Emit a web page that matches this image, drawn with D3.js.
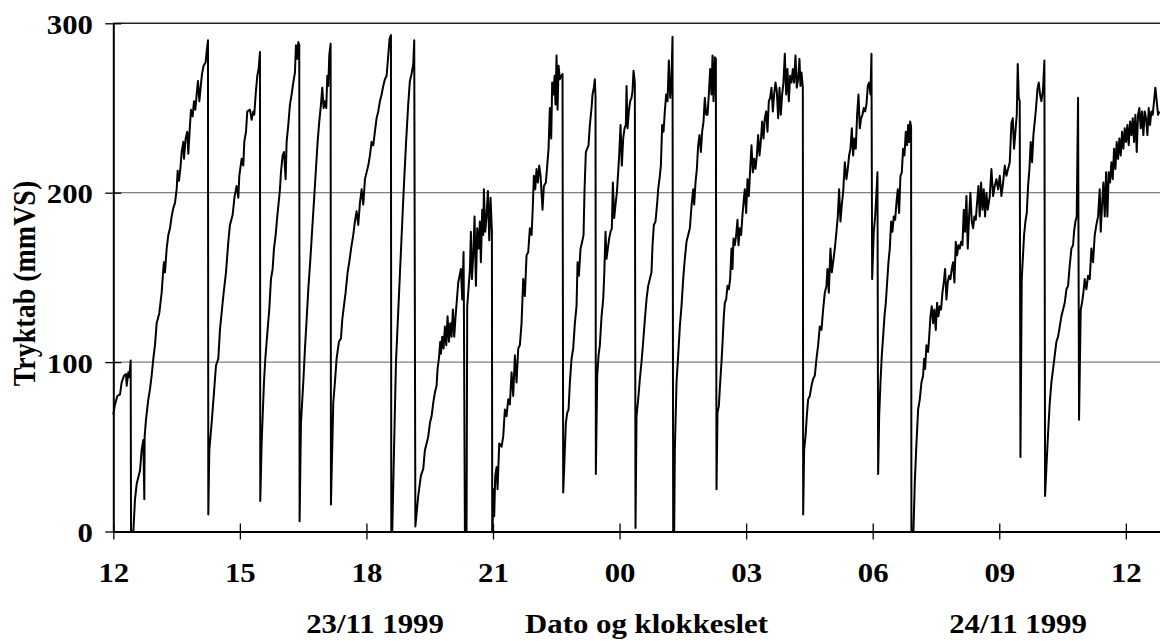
<!DOCTYPE html>
<html><head><meta charset="utf-8">
<script src="https://cdn.jsdelivr.net/npm/d3@7"></script>
<style>body{margin:0;background:#fff}svg{display:block}</style>
</head><body>
<svg id="chart" width="1160" height="641"></svg>
<script>
// [hours since 23/11 1999 12:00, Tryktab (mmVS)]
const readings = [
[0.000,69],[0.040,75],[0.096,80],[0.159,81],[0.198,88],[0.254,92],[0.301,93],[0.317,86],[0.356,94],[0.380,91],[0.412,101],[0.420,0],[0.475,0],[0.514,19],[0.554,28],[0.633,36],[0.672,48],[0.712,54],[0.735,19],[0.743,56],[0.775,66],[0.830,78],[0.870,84],[0.909,92],[0.949,102],[0.988,110],[1.028,123],[1.091,129],[1.146,141],[1.186,155],[1.201,159],[1.225,153],[1.265,167],[1.304,175],[1.344,179],[1.383,186],[1.423,191],[1.462,194],[1.502,202],[1.525,213],[1.557,207],[1.596,216],[1.620,224],[1.660,230],[1.675,220],[1.715,232],[1.754,236],[1.778,223],[1.818,240],[1.841,249],[1.881,245],[1.912,254],[1.944,249],[1.976,258],[2.007,266],[2.039,254],[2.070,262],[2.102,270],[2.141,275],[2.189,277],[2.212,283],[2.244,290],
[2.252,10],[2.276,48],[2.331,64],[2.386,82],[2.434,98],[2.489,102],[2.528,119],[2.607,139],[2.671,153],[2.726,171],[2.765,181],[2.829,187],[2.876,198],[2.923,204],[2.963,197],[2.987,210],[3.042,220],[3.081,216],[3.105,230],[3.145,236],[3.176,248],[3.239,249],[3.279,243],[3.318,248],[3.342,246],[3.374,258],[3.413,269],[3.445,273],[3.476,283],
[3.484,18],[3.516,52],[3.571,88],[3.603,102],[3.650,117],[3.697,131],[3.737,149],[3.777,155],[3.808,167],[3.848,175],[3.887,186],[3.919,194],[3.950,202],[3.974,212],[4.013,222],[4.045,224],[4.085,208],[4.108,230],[4.148,240],[4.187,252],[4.227,258],[4.266,265],[4.306,271],[4.329,287],[4.361,279],[4.385,289],[4.408,287],
[4.416,6],[4.448,64],[4.503,88],[4.543,108],[4.582,125],[4.622,143],[4.677,163],[4.716,179],[4.764,198],[4.803,214],[4.843,230],[4.882,242],[4.922,252],[4.953,262],[4.985,250],[5.017,254],[5.048,250],[5.072,269],[5.096,263],[5.119,281],[5.151,288],
[5.159,16],[5.214,76],[5.253,88],[5.293,102],[5.348,112],[5.396,114],[5.427,125],[5.475,135],[5.506,141],[5.554,153],[5.593,159],[5.648,169],[5.688,175],[5.727,183],[5.767,189],[5.806,181],[5.846,194],[5.886,202],[5.925,193],[5.965,208],[6.004,212],[6.043,216],[6.083,222],[6.122,230],[6.162,228],[6.201,236],[6.241,244],[6.280,248],[6.320,254],[6.359,258],[6.399,263],[6.438,267],[6.478,269],[6.517,281],[6.549,291],[6.581,293],
[6.589,0],[6.612,0],[6.700,100],[6.790,150],[6.880,200],[6.940,230],[6.990,252],[7.030,266],[7.070,270],[7.110,276],[7.133,290],
[7.160,3],[7.228,21],[7.291,33],[7.347,37],[7.386,48],[7.426,52],[7.465,56],[7.505,64],[7.544,68],[7.584,76],[7.623,82],[7.663,86],[7.686,96],[7.718,102],[7.750,112],[7.765,105],[7.797,115],[7.829,108],[7.860,121],[7.892,110],[7.923,127],[7.955,112],[7.987,123],[8.018,115],[8.050,131],[8.081,115],[8.113,127],[8.145,137],[8.176,147],[8.208,151],[8.239,155],[8.271,137],[8.302,165],[8.310,135],
[8.334,0],[8.373,0],[8.389,133],[8.413,141],[8.453,155],[8.476,177],[8.500,149],[8.532,163],[8.563,186],[8.595,145],[8.626,179],[8.658,167],[8.690,183],[8.713,159],[8.745,190],[8.769,175],[8.784,202],[8.816,177],[8.847,186],[8.879,201],[8.911,172],[8.942,197],[8.974,177],
[8.982,0],[8.990,0],[9.006,25],[9.029,9],[9.053,33],[9.085,38],[9.108,25],[9.148,52],[9.203,50],[9.242,56],[9.282,72],[9.321,68],[9.361,78],[9.400,75],[9.440,94],[9.479,80],[9.519,104],[9.558,88],[9.598,108],[9.637,110],[9.677,123],[9.716,149],[9.755,139],[9.795,163],[9.835,165],[9.874,179],[9.914,175],[9.938,188],[9.969,210],[10.001,202],[10.032,214],[10.064,206],[10.096,216],[10.127,210],[10.174,190],[10.206,204],[10.253,206],[10.285,216],[10.317,226],[10.348,250],[10.380,232],[10.403,265],[10.435,258],[10.459,269],[10.482,252],[10.506,281],[10.530,249],[10.554,275],[10.585,267],[10.617,269],[10.648,270],
[10.664,23],[10.680,33],[10.727,64],[10.759,70],[10.791,72],[10.822,88],[10.862,102],[10.901,108],[10.941,123],[10.980,133],[11.004,159],[11.036,151],[11.075,167],[11.114,171],[11.146,175],[11.170,202],[11.201,224],[11.233,226],[11.264,228],[11.296,240],[11.336,250],[11.359,258],[11.391,262],[11.415,267],[11.430,256],
[11.438,34],[11.470,92],[11.502,104],[11.533,110],[11.573,127],[11.612,137],[11.636,151],[11.667,177],[11.691,161],[11.722,167],[11.754,173],[11.786,177],[11.817,179],[11.841,206],[11.873,185],[11.904,193],[11.936,200],[11.967,212],[11.991,222],[12.023,240],[12.054,216],[12.086,232],[12.118,238],[12.149,240],[12.165,263],[12.189,238],[12.220,248],[12.252,254],[12.283,256],[12.307,260],[12.331,272],[12.362,265],
[12.378,2],[12.402,68],[12.441,78],[12.481,90],[12.520,100],[12.560,112],[12.599,125],[12.639,137],[12.678,145],[12.718,149],[12.757,153],[12.781,169],[12.813,181],[12.852,183],[12.892,194],[12.915,202],[12.955,210],[12.979,216],[13.010,240],[13.042,236],[13.073,248],[13.105,258],[13.137,254],[13.168,278],[13.200,256],[13.231,267],[13.255,292],
[13.271,0],[13.295,0],[13.310,48],[13.350,88],[13.389,104],[13.429,121],[13.468,133],[13.508,149],[13.547,161],[13.587,171],[13.626,175],[13.666,179],[13.705,192],[13.745,202],[13.769,193],[13.800,206],[13.832,214],[13.863,228],[13.895,234],[13.927,224],[13.958,236],[13.990,242],[14.021,256],[14.053,246],[14.085,246],[14.116,258],[14.148,273],[14.179,258],[14.203,281],[14.227,254],[14.258,280],[14.282,279],
[14.298,25],[14.321,70],[14.353,74],[14.385,88],[14.416,100],[14.448,115],[14.471,127],[14.495,135],[14.527,137],[14.558,145],[14.590,143],[14.621,149],[14.653,167],[14.677,155],[14.700,173],[14.732,169],[14.764,175],[14.795,184],[14.819,169],[14.851,179],[14.882,175],[14.914,187],[14.945,196],[14.969,202],[15.001,188],[15.032,208],[15.064,198],[15.096,214],[15.127,228],[15.159,212],[15.190,220],[15.222,214],[15.254,222],[15.285,234],[15.317,222],[15.348,230],[15.380,242],[15.412,232],[15.443,244],[15.475,248],[15.506,236],[15.538,254],[15.569,256],[15.601,262],[15.633,248],[15.664,258],[15.696,265],[15.727,260],[15.759,244],[15.791,262],[15.822,246],[15.854,258],[15.885,265],[15.917,282],[15.949,258],[15.980,273],[16.012,254],[16.043,269],[16.075,265],[16.107,273],[16.138,265],[16.170,281],[16.201,262],[16.233,267],[16.264,279],[16.288,263],[16.312,271],[16.344,262],
[16.352,10],[16.375,48],[16.407,56],[16.438,68],[16.470,78],[16.509,80],[16.549,86],[16.588,90],[16.628,92],[16.668,102],[16.707,110],[16.746,121],[16.786,119],[16.825,131],[16.865,141],[16.904,145],[16.928,155],[16.960,141],[16.999,167],[17.031,153],[17.062,159],[17.102,167],[17.141,177],[17.173,186],[17.204,202],[17.236,183],[17.268,193],[17.299,200],[17.339,218],[17.378,208],[17.410,214],[17.441,222],[17.473,226],[17.505,238],[17.536,222],[17.568,232],[17.599,226],[17.631,246],[17.663,258],[17.694,238],[17.726,244],[17.757,246],[17.789,250],[17.821,248],[17.852,252],[17.884,263],[17.915,265],[17.947,258],[17.971,282],
[17.987,149],[18.026,177],[18.058,186],[18.089,200],[18.113,212],
[18.129,34],[18.153,68],[18.184,88],[18.216,104],[18.247,115],[18.279,127],[18.311,135],[18.342,147],[18.374,159],[18.405,167],[18.437,183],[18.468,177],[18.500,186],[18.532,184],[18.563,194],[18.595,202],[18.626,188],[18.658,210],[18.690,212],[18.721,226],[18.753,222],[18.784,236],[18.816,228],[18.840,240],[18.863,230],[18.887,242],[18.910,239],
[18.918,0],[18.966,0],[18.998,29],[19.037,52],[19.077,72],[19.116,78],[19.156,88],[19.194,92],[19.219,102],[19.243,96],[19.274,110],[19.313,106],[19.337,114],[19.369,127],[19.400,133],[19.432,123],[19.463,131],[19.495,119],[19.527,135],[19.558,127],[19.590,133],[19.621,131],[19.653,141],[19.685,147],[19.716,155],[19.748,137],[19.779,147],[19.811,151],[19.843,149],[19.874,155],[19.906,159],[19.937,147],[19.969,171],[20.001,163],[20.032,169],[20.064,167],[20.095,171],[20.127,169],[20.159,190],[20.190,177],[20.222,198],[20.253,167],[20.285,186],[20.316,200],[20.348,183],[20.380,179],[20.411,186],[20.443,184],[20.474,194],[20.506,204],[20.537,186],[20.569,206],[20.601,190],[20.632,202],[20.664,186],[20.696,200],[20.727,190],[20.775,198],[20.814,214],[20.854,198],[20.893,204],[20.933,208],[20.972,202],[21.012,210],[21.051,198],[21.091,206],[21.130,216],[21.170,210],[21.209,214],[21.249,218],[21.288,241],[21.320,244],[21.351,226],[21.383,236],[21.415,246],[21.438,276],[21.462,256],[21.485,254],
[21.502,44],[21.533,149],[21.588,175],[21.620,183],[21.652,188],[21.683,204],[21.715,214],[21.746,230],[21.778,218],[21.809,234],[21.841,242],[21.872,250],[21.904,261],[21.936,265],[21.967,258],[21.999,254],[22.038,261],[22.070,278],
[22.086,21],[22.118,38],[22.157,58],[22.197,76],[22.236,88],[22.276,96],[22.315,104],[22.354,112],[22.394,115],[22.434,121],[22.473,127],[22.513,131],[22.552,135],[22.592,143],[22.631,145],[22.670,157],[22.710,167],[22.749,169],[22.773,177],[22.805,183],[22.836,186],[22.868,256],
[22.891,66],[22.931,131],[22.962,135],[22.994,141],[23.026,149],[23.065,143],[23.105,151],[23.144,149],[23.184,167],[23.223,159],[23.263,175],[23.302,181],[23.342,186],[23.381,202],[23.405,177],[23.437,193],[23.468,206],[23.500,186],[23.532,212],[23.563,186],[23.595,212],[23.626,206],[23.658,218],[23.690,208],[23.721,226],[23.753,214],[23.784,230],[23.816,220],[23.847,232],[23.879,222],[23.911,236],[23.942,226],[23.974,238],[24.006,230],[24.037,240],[24.069,228],[24.100,242],[24.132,234],[24.164,244],[24.195,230],[24.227,246],[24.258,224],[24.290,246],[24.321,250],[24.353,238],[24.385,248],[24.416,234],[24.448,248],[24.479,244],[24.511,234],[24.543,250],[24.574,240],[24.606,248],[24.637,246],[24.669,254],[24.700,262],[24.732,254],[24.763,246],[24.795,248]
];
const xTickHours = [0, 3, 6, 9, 12, 15, 18, 21, 24];
const xTickLabels = ["12", "15", "18", "21", "00", "03", "06", "09", "12"];
const yTickValues = [0, 100, 200, 300];
const yTitle = "Tryktab (mmVS)";
const bottomTexts = ["23/11 1999", "Dato og klokkeslet", "24/11 1999"];

const FONT = '"Liberation Serif","Times New Roman",serif';
const svg = d3.select("#chart");
const xEnd = 24.81;
const x = d3.scaleLinear().domain([0, xEnd]).range([113.3, 1160]);
const y = d3.scaleLinear().domain([0, 300]).range([531.5, 23.3]);

// gridlines
svg.append("g").selectAll("line").data(yTickValues.filter(v => v > 0)).join("line")
  .attr("x1", x(0)).attr("x2", x(xEnd))
  .attr("y1", d => y(d)).attr("y2", d => y(d))
  .attr("stroke", d => d === 300 ? "#222" : "#808080")
  .attr("stroke-width", d => d === 300 ? 1.6 : 1.2);

// data line
svg.append("path").datum(readings)
  .attr("fill", "none").attr("stroke", "#000").attr("stroke-width", 2)
  .attr("stroke-linejoin", "round")
  .attr("d", d3.line().x(d => x(d[0])).y(d => y(d[1])));

// x axis
const gx = svg.append("g").attr("transform", `translate(0,${y(0)})`)
  .call(d3.axisBottom(x).tickValues(xTickHours).tickFormat((d, i) => xTickLabels[i]).tickSizeOuter(0));
gx.select(".domain").attr("stroke", "#000").attr("stroke-width", 2);
gx.selectAll(".tick line").attr("y1", -8).attr("y2", 8).attr("stroke", "#000").attr("stroke-width", 1.3);
gx.selectAll(".tick text").attr("y", null).attr("dy", null)
  .attr("transform", "translate(0,50.5) scale(1.1,1)")
  .attr("font-family", FONT).attr("font-size", 28).attr("font-weight", "bold").attr("fill", "#000");

// y axis
const gy = svg.append("g").attr("transform", `translate(${x(0)},0)`)
  .call(d3.axisLeft(y).tickValues(yTickValues).tickFormat(d3.format("d")).tickSizeOuter(0));
gy.select(".domain").attr("stroke", "#000").attr("stroke-width", 2);
gy.selectAll(".tick line").attr("x1", -8).attr("x2", 8).attr("stroke", "#000").attr("stroke-width", 1.3);
gy.selectAll(".tick text").attr("x", null).attr("dy", null)
  .attr("text-anchor", "end")
  .attr("transform", "translate(-20.3,10) scale(1.1,1)")
  .attr("font-family", FONT).attr("font-size", 28).attr("font-weight", "bold").attr("fill", "#000");

// y title
svg.append("text").text(yTitle)
  .attr("transform", "translate(35,283.5) scale(1.1,1) rotate(-90)")
  .attr("text-anchor", "middle")
  .attr("font-family", FONT).attr("font-size", 28).attr("font-weight", "bold");

// bottom texts
const bottomCenters = [375, 646.5, 1018];
svg.append("g").selectAll("text").data(bottomTexts).join("text")
  .text(d => d)
  .attr("transform", (d, i) => `translate(${bottomCenters[i]},633) scale(1.1,1)`)
  .attr("text-anchor", "middle")
  .attr("font-family", FONT).attr("font-size", 28).attr("font-weight", "bold");
</script>
</body></html>
